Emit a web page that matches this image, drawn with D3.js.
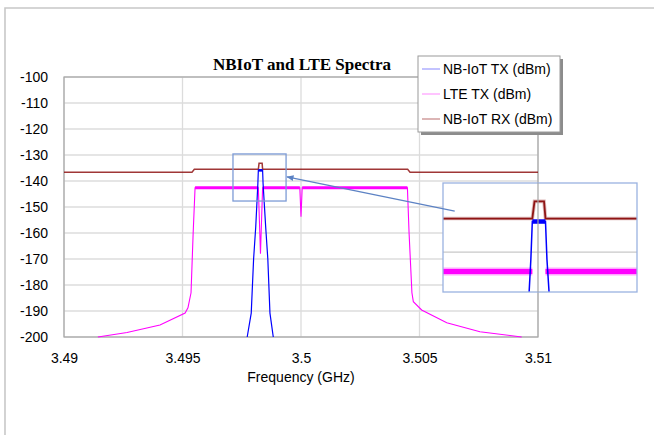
<!DOCTYPE html>
<html>
<head>
<meta charset="utf-8">
<script src="https://cdn.jsdelivr.net/npm/d3@7"></script>
<style>
  html, body { margin: 0; padding: 0; background: #fff; }
  svg { display: block; }
  text { font-family: "Liberation Sans", Arial, sans-serif; fill: #000; }
</style>
</head>
<body>
<svg id="chart" width="654" height="435"></svg>
<script>
// ---- data (frequency in GHz, level in dBm) ----
const freqTicks = [3.49, 3.495, 3.5, 3.505, 3.51];
const freqTickLabels = ["3.49", "3.495", "3.5", "3.505", "3.51"];
const levelTicks = [-100, -110, -120, -130, -140, -150, -160, -170, -180, -190, -200];
const levelTickLabels = ["-100", "-110", "-120", "-130", "-140", "-150", "-160", "-170", "-180", "-190", "-200"];

const seriesNames = ["NB-IoT TX (dBm)", "LTE TX (dBm)", "NB-IoT RX (dBm)"];

// NB-IoT transmit spectrum
const nbTx = [
  [3.49773, -200], [3.49790, -190.8], [3.49800, -170], [3.49809, -157.7],
  [3.49818, -141], [3.49820, -135.9], [3.49838, -135.9], [3.49840, -141],
  [3.49851, -157.7], [3.49860, -170], [3.49869, -190.8], [3.49883, -200]
];

// LTE transmit spectrum (with NB-IoT notch and DC dip)
const lteTx = [
  [3.49143, -200], [3.49266, -198.3], [3.49405, -195.4], [3.49511, -190.8],
  [3.49523, -188.8], [3.49536, -183], [3.49545, -160], [3.49553, -142.6],
  [3.49820, -142.6], [3.49829, -168], [3.49838, -142.6],
  [3.49995, -142.6], [3.50000, -153.7], [3.50005, -142.6],
  [3.50449, -142.6], [3.50456, -160], [3.50468, -183], [3.50474, -186.4],
  [3.50509, -189.6], [3.50615, -194.5], [3.50755, -198], [3.50931, -200]
];

// NB-IoT receive spectrum
const nbRx = [
  [3.4900, -136.6], [3.4954, -136.6], [3.4955, -135.5], [3.49820, -135.5],
  [3.49823, -133.2], [3.49836, -133.2], [3.49838, -135.5], [3.5045, -135.5],
  [3.5046, -136.6], [3.5100, -136.6]
];

// zoomed region marked on the main plot, and the detail view's window
const zoomBoxFreq = [3.49713, 3.49937];
const zoomBoxLevel = [-147.7, -129.6];
const detailFreq = [3.49698, 3.49963];
const detailLevel = [-145.36, -130.73];
const detailTicks = [-140];
// connector: from a point in the detail view to the zoom box edge
const connectorFrom = [3.49714, -134.5];
const connectorTo = [3.49937, -138.4];

// ---- styling ----
const colors = { nbTx: "#0000ff", lteTx: "#ff00ff", nbRx: "#8f1414" };
const legendColors = ["#9b9bff", "#ff9cff", "#c48484"];

const svg = d3.select("#chart");

// outer chart frame (left and top edges)
svg.append("path")
  .attr("d", "M5,435 V8 H654")
  .attr("fill", "none").attr("stroke", "#c8c8c8").attr("stroke-width", 1.6);

// ---- main plot ----
const plot = { left: 64, right: 538, top: 77, bottom: 337 };
const x = d3.scaleLinear().domain([3.49, 3.51]).range([plot.left, plot.right]);
const y = d3.scaleLinear().domain([-200, -100]).range([plot.bottom, plot.top]);

// grid
const grid = svg.append("g");
grid.selectAll("line.h").data(levelTicks).join("line")
  .attr("x1", plot.left).attr("x2", plot.right)
  .attr("y1", d => y(d)).attr("y2", d => y(d))
  .attr("stroke", "#dcdcdc").attr("stroke-width", 1.3);
grid.selectAll("line.v").data(freqTicks).join("line")
  .attr("y1", plot.top).attr("y2", plot.bottom)
  .attr("x1", d => x(d)).attr("x2", d => x(d))
  .attr("stroke", "#dcdcdc").attr("stroke-width", 1.3);

// plot border
svg.append("rect")
  .attr("x", plot.left).attr("y", plot.top)
  .attr("width", plot.right - plot.left).attr("height", plot.bottom - plot.top)
  .attr("fill", "none").attr("stroke", "#a6a6a6").attr("stroke-width", 1.2);

// axes
const yAxis = d3.axisLeft(y).tickValues(levelTicks)
  .tickFormat((d, i) => levelTickLabels[i]).tickSize(0).tickPadding(16);
const yg = svg.append("g").attr("transform", `translate(${plot.left},0)`).call(yAxis);
yg.select(".domain").remove();
yg.selectAll("text").attr("font-size", 14).attr("font-family", "Liberation Sans, Arial, sans-serif");

const xAxis = d3.axisBottom(x).tickValues(freqTicks)
  .tickFormat((d, i) => freqTickLabels[i]).tickSize(0).tickPadding(16);
const xg = svg.append("g").attr("transform", `translate(0,${plot.bottom})`).call(xAxis);
xg.select(".domain").remove();
xg.selectAll("text").attr("font-size", 14).attr("font-family", "Liberation Sans, Arial, sans-serif");

svg.append("text")
  .attr("x", (plot.left + plot.right) / 2).attr("y", 382)
  .attr("text-anchor", "middle").attr("font-size", 14)
  .text("Frequency (GHz)");

// title
svg.append("text")
  .attr("x", 302).attr("y", 70)
  .attr("text-anchor", "middle")
  .style("font-family", "'Liberation Serif', 'Times New Roman', serif")
  .attr("font-weight", "bold").attr("font-size", 17)
  .text("NBIoT and LTE Spectra");

// traces
svg.append("clipPath").attr("id", "clipMain")
  .append("rect").attr("x", plot.left).attr("y", plot.top)
  .attr("width", plot.right - plot.left).attr("height", plot.bottom - plot.top + 1);

const lineMain = d3.line().x(d => x(d[0])).y(d => y(d[1]));
const floorMain = d3.line().defined(d => d[1] > -143).x(d => x(d[0])).y(d => y(d[1]));
const traces = svg.append("g").attr("clip-path", "url(#clipMain)");

// in-band LTE floor is noisy: draw its flat runs thicker
traces.append("path").datum(lteTx)
  .attr("d", lineMain).attr("fill", "none")
  .attr("stroke", colors.lteTx).attr("stroke-width", 1.1);
traces.append("path").datum(lteTx)
  .attr("d", floorMain)
  .attr("fill", "none").attr("stroke", colors.lteTx).attr("stroke-width", 2.8);

traces.append("path").datum(nbRx)
  .attr("d", lineMain).attr("fill", "none")
  .attr("stroke", colors.nbRx).attr("stroke-width", 1.5).attr("stroke-opacity", 0.85);

traces.append("path").datum(nbTx)
  .attr("d", lineMain).attr("fill", "none")
  .attr("stroke", colors.nbTx).attr("stroke-width", 1.2);
traces.append("path").datum(nbTx.filter(d => d[1] > -137))
  .attr("d", lineMain).attr("fill", "none")
  .attr("stroke", colors.nbTx).attr("stroke-width", 2.6);

// zoom box
svg.append("rect")
  .attr("x", x(zoomBoxFreq[0])).attr("y", y(zoomBoxLevel[1]))
  .attr("width", x(zoomBoxFreq[1]) - x(zoomBoxFreq[0]))
  .attr("height", y(zoomBoxLevel[0]) - y(zoomBoxLevel[1]))
  .attr("fill", "none").attr("stroke", "#7d9bd6").attr("stroke-width", 1.3);

// ---- detail view ----
const det = { left: 443, right: 637, top: 183, bottom: 292 };
const dx = d3.scaleLinear().domain(detailFreq).range([det.left, det.right]);
const dy = d3.scaleLinear().domain(detailLevel).range([det.bottom, det.top]);

svg.append("rect")
  .attr("x", det.left).attr("y", det.top)
  .attr("width", det.right - det.left).attr("height", det.bottom - det.top)
  .attr("fill", "#fff");

svg.append("clipPath").attr("id", "clipDet")
  .append("rect").attr("x", det.left).attr("y", det.top)
  .attr("width", det.right - det.left).attr("height", det.bottom - det.top);

const dg = svg.append("g").attr("clip-path", "url(#clipDet)");
dg.selectAll("line.h").data(detailTicks).join("line")
  .attr("x1", det.left).attr("x2", det.right)
  .attr("y1", d => dy(d)).attr("y2", d => dy(d))
  .attr("stroke", "#c8c8c8").attr("stroke-width", 1.3);

const lineDet = d3.line().x(d => dx(d[0])).y(d => dy(d[1]));
const floorDet = d3.line().defined(d => d[1] > -143).x(d => dx(d[0])).y(d => dy(d[1]));

// noisy LTE floor: a soft halo under a solid core, flat runs only
dg.append("path").datum(lteTx).attr("d", floorDet).attr("fill", "none")
  .attr("stroke", colors.lteTx).attr("stroke-width", 8).attr("stroke-opacity", 0.35);
dg.append("path").datum(lteTx).attr("d", floorDet).attr("fill", "none")
  .attr("stroke", colors.lteTx).attr("stroke-width", 5);

dg.append("path").datum(nbRx).attr("d", lineDet).attr("fill", "none")
  .attr("stroke", colors.nbRx).attr("stroke-width", 3.6).attr("stroke-opacity", 0.3);
dg.append("path").datum(nbRx).attr("d", lineDet).attr("fill", "none")
  .attr("stroke", colors.nbRx).attr("stroke-width", 1.8);

dg.append("path").datum(nbTx).attr("d", lineDet).attr("fill", "none")
  .attr("stroke", colors.nbTx).attr("stroke-width", 1.5);
dg.append("path").datum(nbTx.filter(d => d[1] > -137)).attr("d", lineDet).attr("fill", "none")
  .attr("stroke", colors.nbTx).attr("stroke-width", 4.5);

svg.append("rect")
  .attr("x", det.left).attr("y", det.top)
  .attr("width", det.right - det.left).attr("height", det.bottom - det.top)
  .attr("fill", "none").attr("stroke", "#9ab2e0").attr("stroke-width", 1.3);

// right edge of the main plot frame runs over the detail view
svg.append("line")
  .attr("x1", plot.right).attr("x2", plot.right)
  .attr("y1", det.top).attr("y2", det.bottom)
  .attr("stroke", "#a6a6a6").attr("stroke-width", 1.2);

// connector arrow
const cx0 = dx(connectorFrom[0]), cy0 = dy(connectorFrom[1]);
const cx1 = x(connectorTo[0]) + 1, cy1 = y(connectorTo[1]);
svg.append("defs").append("marker")
  .attr("id", "arrow").attr("viewBox", "0 0 10 10")
  .attr("refX", 9).attr("refY", 5)
  .attr("markerWidth", 6).attr("markerHeight", 6)
  .attr("orient", "auto")
  .append("path").attr("d", "M0,1 L10,5 L0,9 Z").attr("fill", "#5c82c4");
svg.append("line")
  .attr("x1", cx0).attr("y1", cy0).attr("x2", cx1).attr("y2", cy1)
  .attr("stroke", "#5c82c4").attr("stroke-width", 1.2)
  .attr("marker-end", "url(#arrow)");

// ---- legend ----
const lg = { x: 418, y: 56, w: 142, h: 76 };
svg.append("rect")
  .attr("x", lg.x + 3).attr("y", lg.y + 3).attr("width", lg.w).attr("height", lg.h)
  .attr("fill", "#8c8c8c");
svg.append("rect")
  .attr("x", lg.x).attr("y", lg.y).attr("width", lg.w).attr("height", lg.h)
  .attr("fill", "#fff").attr("stroke", "#9a9a9a").attr("stroke-width", 1);
const rows = svg.append("g").selectAll("g").data(seriesNames).join("g")
  .attr("transform", (d, i) => `translate(${lg.x}, ${lg.y + 13 + i * 25})`);
rows.append("line")
  .attr("x1", 4).attr("x2", 22).attr("y1", 0).attr("y2", 0)
  .attr("stroke", (d, i) => legendColors[i]).attr("stroke-width", 1.2);
rows.append("text")
  .attr("x", 25).attr("y", 0).attr("dy", "0.35em")
  .attr("font-size", 14)
  .text(d => d);
</script>
</body>
</html>
